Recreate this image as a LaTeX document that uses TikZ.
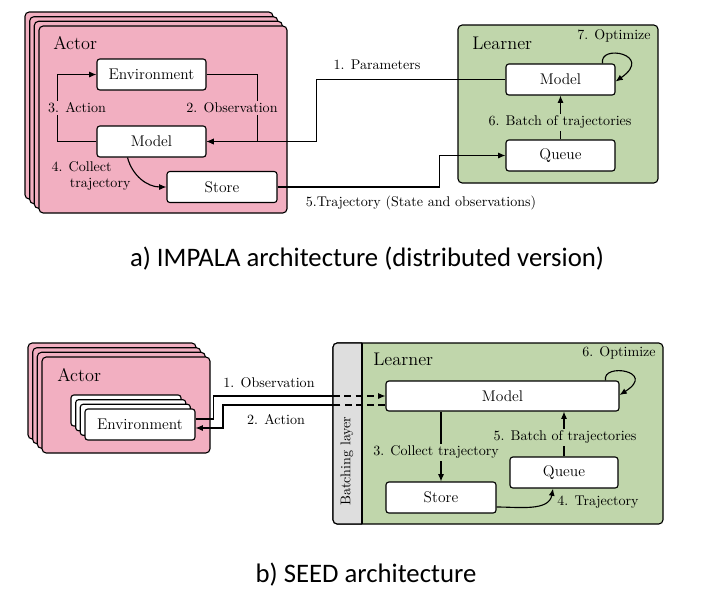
\documentclass[tikz,border=0pt]{standalone}
\usepackage{fontspec}
\usepackage{xcolor}
\usepackage{tikz}
\usetikzlibrary{positioning, arrows.meta, calc}
\newfontfamily\captionfont{Carlito}
\definecolor{actorpink}{RGB}{242,175,193}
\definecolor{learnergreen}{RGB}{192,214,171}
\definecolor{batchgray}{RGB}{222,222,222}
\newcommand{\px}{0.025cm}
\tikzset{
  compbox/.style={
    rectangle,
    draw=black,
    fill=white,
    thick,
    rounded corners=2pt,
    minimum width=109*\px,
    minimum height=31*\px,
    inner sep=2pt,
    font=\fontsize{11}{13}\selectfont
  },
  stackcopy/.style={
    draw=black,
    fill=white,
    thick,
    rounded corners=2pt
  },
  actorframe/.style={
    draw=black,
    fill=actorpink,
    thick,
    rounded corners=3pt
  },
  learnerframe/.style={
    draw=black,
    fill=learnergreen,
    thick,
    rounded corners=3pt
  },
  frametitle/.style={
    anchor=west,
    inner sep=0pt,
    font=\fontsize{13}{15}\selectfont
  },
  linkarrow/.style={
    thick,
    -{Latex[length=1.8mm,width=1.5mm]}
  },
  linkline/.style={
    thick
  },
  linklabel/.style={
    font=\fontsize{10}{12}\selectfont,
    inner sep=1.5pt
  },
  figcaption/.style={
    font=\captionfont\fontsize{19}{22}\selectfont
  }
}

\begin{document}
\begin{tikzpicture}[x=\px, y=-\px]
  \useasboundingbox (0,0) rectangle (718,595);

  % a) IMPALA
  \foreach \d in {14,9.3,4.7}
    \draw[actorframe] (39-\d,26-\d) rectangle (287-\d,213-\d);
  \draw[actorframe] (39,26) rectangle (287,213);
  \node[frametitle] (actorA) at (53,43) {Actor};
  \node[compbox] (envA) at (151.5,74.5) {Environment};
  \node[compbox] (modelA) at (151.5,141.5) {Model};
  \node[compbox, minimum width=110*\px] (storeA) at (222,187) {Store};

  \draw[learnerframe] (458,25) rectangle (658,183);
  \node[frametitle] (learnerA) at (472,43) {Learner};
  \node[compbox] (modelB) at (560.5,79.5) {Model};
  \node[compbox] (queueB) at (560.5,155.5) {Queue};

  \draw[linkarrow] (modelA.west) -- ++(-39,0) |- (envA.west);
  \node[linklabel, fill=actorpink] (actionA) at (77,108) {3. Action};
  \draw[linkarrow] (envA.east) -- ++(51,0) |- (modelA.east);
  \node[linklabel, fill=actorpink] (obsA) at (232,108) {2. Observation};
  \draw[linkarrow] (modelB.west) -- ++(-189,0) |- (modelA.east);
  \node[linklabel] (paramA) at (377,65) {1. Parameters};
  \draw[linkarrow] ([xshift=-24*\px]modelA.south) to[out=-75, in=180] (storeA.west);
  \node[linklabel, align=left] (collectA) at (91,176) {4. Collect\\\hspace*{13pt}trajectory};
  \draw[linkarrow] (storeA.east) -- ++(162,0) |- (queueB.west);
  \node[linklabel] (trajA) at (421,203) {5.Trajectory (State and observations)};
  \draw[linkarrow] (queueB.north) -- (modelB.south);
  \node[linklabel, fill=learnergreen] (batchA) at (560,122) {6. Batch of trajectories};
  \draw[linkarrow] ([xshift=-13*\px]modelB.north east) .. controls +(-4,-20) and +(39,-27) .. ([yshift=-2*\px]modelB.east);
  \node[linklabel] (optA) at (614,36) {7. Optimize};

  \node[figcaption] (capA) at (367,259) {a) IMPALA architecture (distributed version)};

  % b) SEED
  \foreach \d in {14,9.3,4.7}
    \draw[actorframe] (42-\d,357-\d) rectangle (210-\d,453-\d);
  \draw[actorframe] (42,357) rectangle (210,453);
  \node[frametitle] (actorC) at (57,375) {Actor};
  \foreach \d in {14,9.3,4.7}
    \draw[stackcopy] (85-\d,409-\d) rectangle (195-\d,440-\d);
  \node[compbox, minimum width=110*\px] (envC) at (140,424.5) {Environment};

  \draw[learnerframe] (333,343) rectangle (663,524);
  \begin{scope}
    \clip (320,330) rectangle (362,540);
    \draw[actorframe, fill=batchgray] (333,343) rectangle (663,524);
  \end{scope}
  \draw[linkline] (362,343) -- (362,524);
  \node[linklabel, rotate=90] (batchlayer) at (347,461) {Batching layer};
  \node[frametitle] (learnerC) at (373,359) {Learner};
  \node[compbox, minimum width=233*\px, minimum height=30*\px] (modelC) at (502.5,396) {Model};
  \node[compbox, minimum width=110*\px] (storeC) at (441,497.5) {Store};
  \node[compbox, minimum width=108*\px] (queueC) at (564,472.5) {Queue};
  \coordinate (obsgate) at (333,396);
  \coordinate (actgate) at (333,405);

  \draw[linkline] ([yshift=5.5*\px]envC.east) -- ++(18,0) |- (obsgate);
  \draw[linkarrow, dash pattern=on 5pt off 3pt] (obsgate) -- (modelC.west);
  \node[linklabel] (obsC) at (269,383) {1. Observation};
  \draw[linkline, dash pattern=on 5pt off 3pt] ([yshift=-9*\px]modelC.west) -- (actgate);
  \draw[linkarrow] (actgate) -- ++(-110,0) |- ([yshift=-3.5*\px]envC.east);
  \node[linklabel] (actC) at (276,420) {2. Action};
  \draw[linkarrow] (modelC.south -| storeC.north) -- (storeC.north);
  \node[linklabel, fill=learnergreen] (collectC) at (436,452) {3. Collect trajectory};
  \draw[linkarrow] ([yshift=-9.5*\px]storeC.east) to[out=0, in=-100] ([xshift=-11*\px]queueC.south);
  \node[linklabel] (trajC) at (598,502) {4. Trajectory};
  \draw[linkarrow] (queueC.north) -- (queueC.north |- modelC.south);
  \node[linklabel, fill=learnergreen] (batchC) at (565,437) {5. Batch of trajectories};
  \draw[linkarrow] ([xshift=-14*\px]modelC.north east) .. controls +(-4,-18) and +(38,-24) .. ([yshift=1*\px]modelC.east);
  \node[linklabel] (optC) at (619,353) {6. Optimize};

  \node[figcaption] (capC) at (366,575) {b) SEED architecture};
\end{tikzpicture}
\end{document}
